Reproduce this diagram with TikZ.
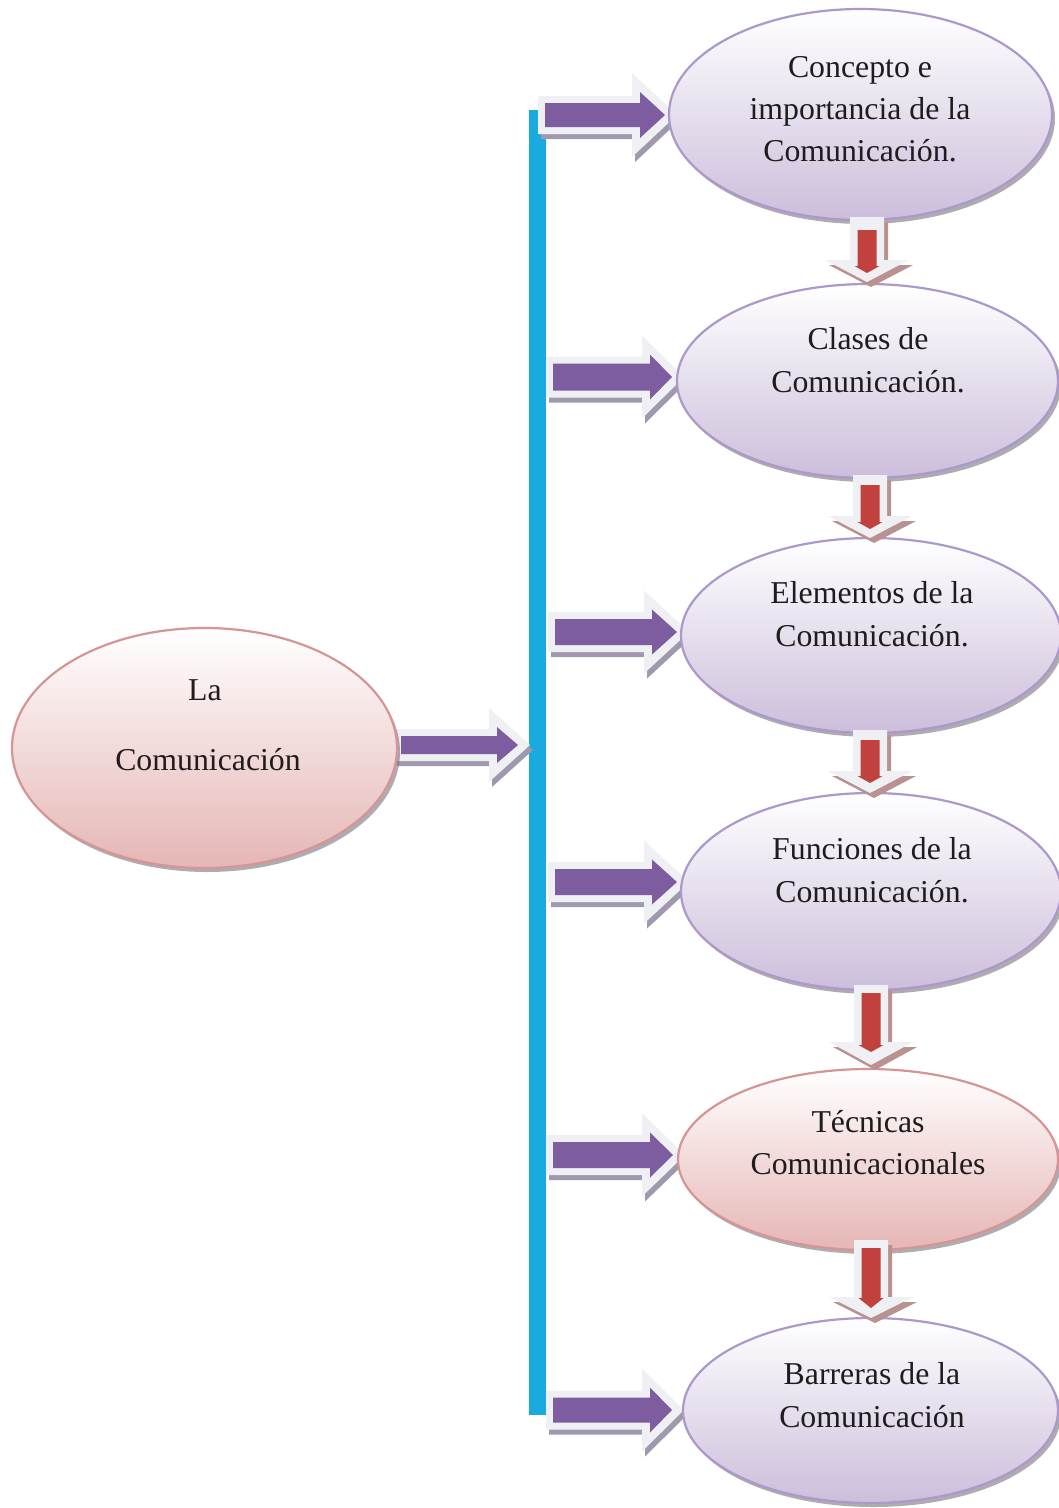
\documentclass[tikz,border=0pt]{standalone}
\usepackage{fontspec}
\setmainfont{Liberation Serif}
\usetikzlibrary{shapes.geometric,shadows}
\definecolor{barblue}{RGB}{25,170,224}
\definecolor{arrpurple}{RGB}{125,92,160}
\definecolor{arrred}{RGB}{192,65,62}
\definecolor{glowc}{RGB}{239,240,243}
\definecolor{pshadow}{RGB}{160,152,172}
\definecolor{rshadow}{RGB}{185,145,143}
\definecolor{lavline}{RGB}{172,152,202}
\definecolor{lavfill}{RGB}{204,190,219}
\definecolor{lavmid}{RGB}{234,229,241}
\definecolor{pinkline}{RGB}{215,148,148}
\definecolor{pinkfill}{RGB}{229,182,181}
\definecolor{pinkmid}{RGB}{242,226,226}
\definecolor{txt}{RGB}{30,28,29}
\definecolor{eshadow}{RGB}{120,115,125}
\tikzset{
  lavell/.style={ellipse, draw=lavline, line width=2.2pt, inner sep=0pt,
    shading=axis, top color=white, middle color=lavmid, bottom color=lavfill,
    drop shadow={shadow xshift=3pt, shadow yshift=-4pt, fill=eshadow, opacity=0.6}},
  pinkell/.style={ellipse, draw=pinkline, line width=2.2pt, inner sep=0pt,
    shading=axis, top color=white, middle color=pinkmid, bottom color=pinkfill,
    drop shadow={shadow xshift=3pt, shadow yshift=-4pt, fill=eshadow, opacity=0.6}},
  lbl/.style={anchor=base, font=\fontsize{31.8}{42}\selectfont, text=txt, inner sep=0pt},
}
% purple block arrow: #1 body start x, #2 centre y, #3 head base x, #4 tip x, #5 body half, #6 head half
\newcommand\myparrow[6]{%
  \fill[pshadow] ({#1-7+3},{#2-#5-7+5}) -- ({#3-8+3},{#2-#5-7+5}) -- ({#3-8+3},{#2-#6-19+5}) -- ({#4+12+3},{#2+5})
     -- ({#3-8+3},{#2+#6+19+5}) -- ({#3-8+3},{#2+#5+7+5}) -- ({#1-7+3},{#2+#5+7+5}) -- cycle;
  \fill[glowc] ({#1-7},{#2-#5-7}) -- ({#3-8},{#2-#5-7}) -- ({#3-8},{#2-#6-19}) -- ({#4+12},{#2})
     -- ({#3-8},{#2+#6+19}) -- ({#3-8},{#2+#5+7}) -- ({#1-7},{#2+#5+7}) -- cycle;
  \fill[arrpurple] ({#1},{#2-#5}) -- ({#3},{#2-#5}) -- ({#3},{#2-#6}) -- ({#4},{#2})
     -- ({#3},{#2+#6}) -- ({#3},{#2+#5}) -- ({#1},{#2+#5}) -- cycle;
}
% red block arrow: #1 centre x, #2 glow top, #3 glow head base, #4 glow tip, #5 red top, #6 red head base, #7 red tip
\newcommand\myrarrow[7]{%
  \fill[rshadow] ({#1-17+4},{#2+5}) -- ({#1+17+4},{#2+5}) -- ({#1+17+4},{#3+5}) -- ({#1+42+4},{#3+5})
     -- ({#1+4},{#4+5}) -- ({#1-42+4},{#3+5}) -- ({#1-17+4},{#3+5}) -- cycle;
  \fill[glowc] ({#1-17},{#2}) -- ({#1+17},{#2}) -- ({#1+17},{#3}) -- ({#1+42},{#3})
     -- ({#1},{#4}) -- ({#1-42},{#3}) -- ({#1-17},{#3}) -- cycle;
  \fill[arrred] ({#1-9.5},{#5}) -- ({#1+9.5},{#5}) -- ({#1+9.5},{#6}) -- ({#1+12.5},{#6})
     -- ({#1},{#7}) -- ({#1-12.5},{#6}) -- ({#1-9.5},{#6}) -- cycle;
}
\begin{document}
\begin{tikzpicture}[x=1pt,y=-1pt]
\useasboundingbox (0,0) rectangle (1059,1508);
\fill[white] (0,0) rectangle (1059,1508);
% blue bar
\fill[barblue] (529,110) rectangle (546,1415);
% purple arrows
\myparrow{401}{745}{497}{518}{9}{18}
\myparrow{545}{115}{640}{665}{12}{23}
\myparrow{553}{377}{650}{672}{13.5}{22.5}
\myparrow{555}{632}{652}{677}{13}{22.5}
\myparrow{555}{882}{652}{677}{13}{22.5}
\myparrow{553}{1155}{650}{673}{13}{22.5}
\myparrow{553}{1410}{650}{672}{12.5}{22.5}
% ellipses
\node[pinkell, minimum width=385pt, minimum height=240pt] (root) at (204.5,748) {};
\node[lavell, minimum width=383pt, minimum height=211pt] (e1) at (860.5,114.5) {};
\node[lavell, minimum width=381pt, minimum height=194pt] (e2) at (867.5,381) {};
\node[lavell, minimum width=380pt, minimum height=195pt] (e3) at (871,635.5) {};
\node[lavell, minimum width=380pt, minimum height=197pt] (e4) at (871,891.5) {};
\node[pinkell, minimum width=380pt, minimum height=181pt] (e5) at (868,1159.5) {};
\node[lavell, minimum width=375pt, minimum height=185pt] (e6) at (870.5,1410.5) {};
% red arrows
\myrarrow{867}{217}{260}{282}{230}{266}{273}
\myrarrow{870}{475}{516}{538}{485}{522}{529}
\myrarrow{870}{730}{771}{793}{740}{776}{783}
\myrarrow{871}{985}{1042}{1065}{993}{1045}{1052}
\myrarrow{871}{1240}{1297}{1318}{1248}{1298}{1308}
% texts
\node[lbl] (r1) at (205,700) {La};
\node[lbl] (r2) at (208,770) {Comunicación};
\node[lbl] (t11) at (860,77) {Concepto e};
\node[lbl] (t12) at (860,119) {importancia de la};
\node[lbl] (t13) at (860,161) {Comunicación.};
\node[lbl] (t21) at (868,349) {Clases de};
\node[lbl] (t22) at (868,392) {Comunicación.};
\node[lbl] (t31) at (872,603) {Elementos de la};
\node[lbl] (t32) at (872,646) {Comunicación.};
\node[lbl] (t41) at (872,859) {Funciones de la};
\node[lbl] (t42) at (872,902) {Comunicación.};
\node[lbl] (t51) at (868,1132) {Técnicas};
\node[lbl] (t52) at (868,1174) {Comunicacionales};
\node[lbl] (t61) at (872,1384) {Barreras de la};
\node[lbl] (t62) at (872,1427) {Comunicación};
\end{tikzpicture}
\end{document}
